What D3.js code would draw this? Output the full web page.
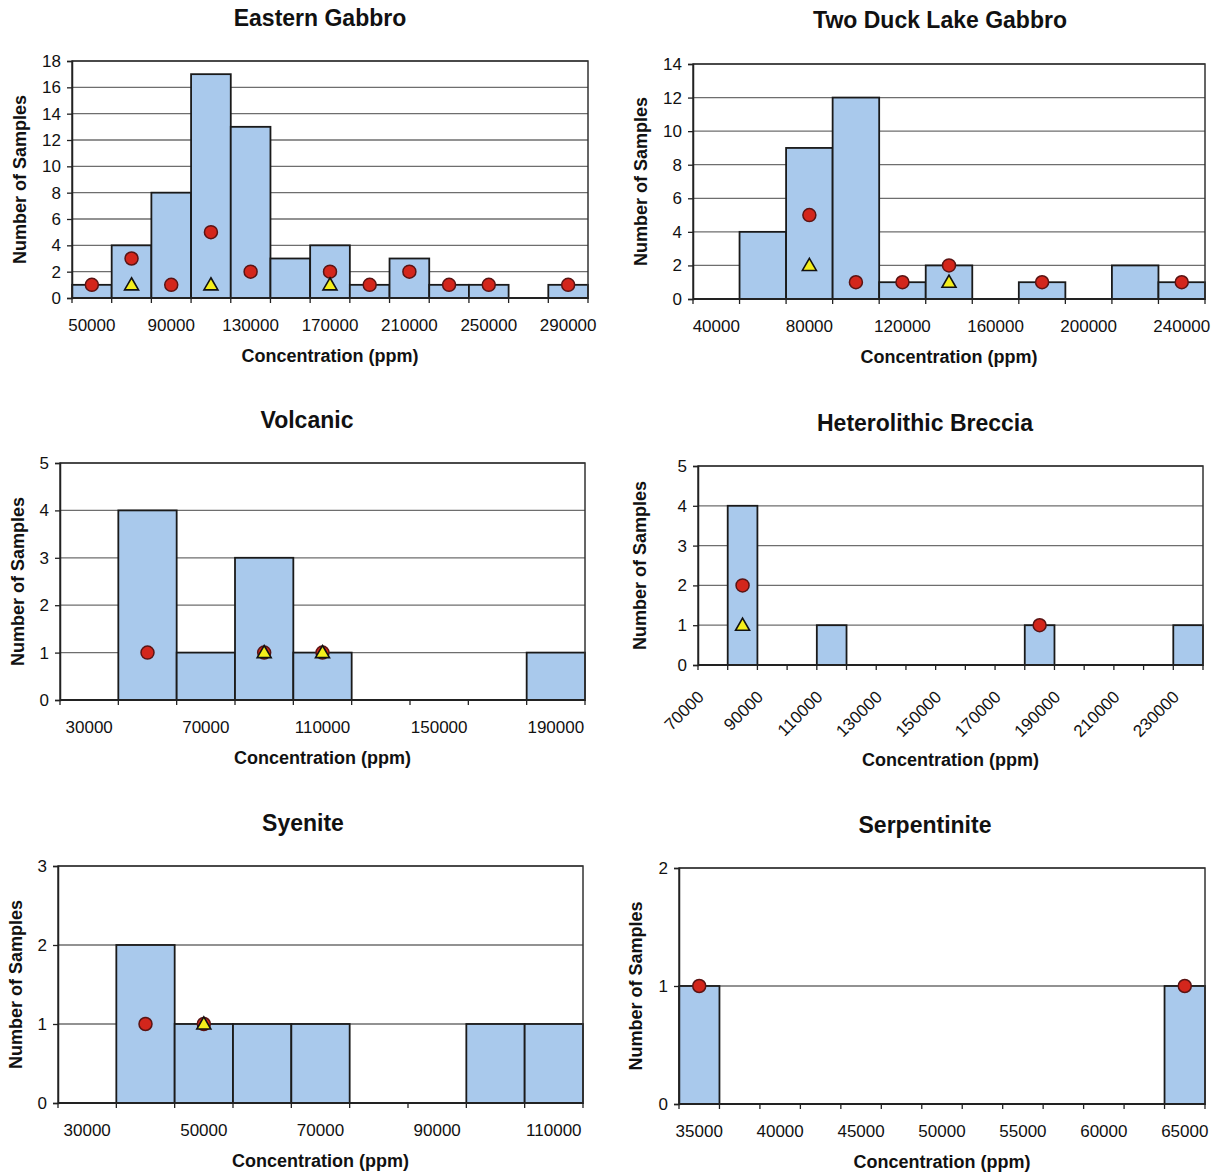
<!DOCTYPE html>
<html>
<head>
<meta charset="utf-8">
<script src="https://cdn.jsdelivr.net/npm/d3@7"></script>
<style>
  html, body { margin: 0; padding: 0; background: #fff; }
  svg { display: block; font-family: Arial, "Liberation Sans", sans-serif; }
</style>
</head>
<body>
<svg id="chart" width="1217" height="1173"></svg>
<script>
// ---------- DATA ----------
// Eastern Gabbro
const egCats      = [50000,70000,90000,110000,130000,150000,170000,190000,210000,230000,250000,270000,290000];
const egCounts    = [1,4,8,17,13,3,4,1,3,1,1,0,1];
const egCircles   = [1,3,1,5,2,null,2,1,2,1,1,null,1];
const egTriangles = [null,1,null,1,null,null,1,null,null,null,null,null,null];

// Two Duck Lake Gabbro
const tdCats      = [40000,60000,80000,100000,120000,140000,160000,180000,200000,220000,240000];
const tdCounts    = [0,4,9,12,1,2,0,1,0,2,1];
const tdCircles   = [null,null,5,1,1,2,null,1,null,null,1];
const tdTriangles = [null,null,2,null,null,1,null,null,null,null,null];

// Volcanic
const voCats      = [30000,50000,70000,90000,110000,130000,150000,170000,190000];
const voCounts    = [0,4,1,3,1,0,0,0,1];
const voCircles   = [null,1,null,1,1,null,null,null,null];
const voTriangles = [null,null,null,1,1,null,null,null,null];

// Heterolithic Breccia
const hbCats      = [70000,80000,90000,100000,110000,120000,130000,140000,150000,160000,170000,180000,190000,200000,210000,220000,230000];
const hbCounts    = [0,4,0,0,1,0,0,0,0,0,0,1,0,0,0,0,1];
const hbCircles   = [null,2,null,null,null,null,null,null,null,null,null,1,null,null,null,null,null];
const hbTriangles = [null,1,null,null,null,null,null,null,null,null,null,null,null,null,null,null,null];

// Syenite
const syCats      = [30000,40000,50000,60000,70000,80000,90000,100000,110000];
const syCounts    = [0,2,1,1,1,0,0,1,1];
const syCircles   = [null,1,1,null,null,null,null,null,null];
const syTriangles = [null,null,1,null,null,null,null,null,null];

// Serpentinite
const spCats      = [35000,37500,40000,42500,45000,47500,50000,52500,55000,57500,60000,62500,65000];
const spCounts    = [1,0,0,0,0,0,0,0,0,0,0,0,1];
const spCircles   = [1,null,null,null,null,null,null,null,null,null,null,null,1];
const spTriangles = [null,null,null,null,null,null,null,null,null,null,null,null,null];

const yTitle = "Number of Samples";
const xTitle = "Concentration (ppm)";

// ---------- LAYOUT ----------
const panels = [
  {title:"Eastern Gabbro", cats:egCats, counts:egCounts, circles:egCircles, triangles:egTriangles,
   yMax:18, yStep:2, box:{l:72,r:588,t:61,b:298}, titleX:320, titleY:26, yTitleX:20, rotate:false},
  {title:"Two Duck Lake Gabbro", cats:tdCats, counts:tdCounts, circles:tdCircles, triangles:tdTriangles,
   yMax:14, yStep:2, box:{l:693,r:1205,t:64,b:299}, titleX:940, titleY:28, yTitleX:641, rotate:false},
  {title:"Volcanic", cats:voCats, counts:voCounts, circles:voCircles, triangles:voTriangles,
   yMax:5, yStep:1, box:{l:60,r:585,t:463,b:700}, titleX:307, titleY:428, yTitleX:18, rotate:false},
  {title:"Heterolithic Breccia", cats:hbCats, counts:hbCounts, circles:hbCircles, triangles:hbTriangles,
   yMax:5, yStep:1, box:{l:698,r:1203,t:466,b:665}, titleX:925, titleY:431, yTitleX:640, rotate:true},
  {title:"Syenite", cats:syCats, counts:syCounts, circles:syCircles, triangles:syTriangles,
   yMax:3, yStep:1, box:{l:58,r:583,t:866,b:1103}, titleX:303, titleY:831, yTitleX:16, rotate:false},
  {title:"Serpentinite", cats:spCats, counts:spCounts, circles:spCircles, triangles:spTriangles,
   yMax:2, yStep:1, box:{l:679,r:1205,t:868,b:1104}, titleX:925, titleY:833, yTitleX:636, rotate:false}
];

const svg = d3.select("#chart");

panels.forEach(p => {
  const g = svg.append("g");
  const {l, r, t, b} = p.box;

  const x = d3.scaleBand().domain(p.cats).range([l, r]).paddingInner(0).paddingOuter(0);
  const y = d3.scaleLinear().domain([0, p.yMax]).range([b, t]);
  const yTicks = d3.range(0, p.yMax + 0.001, p.yStep);

  // Gridlines
  g.append("g").selectAll("line").data(yTicks).join("line")
    .attr("x1", l).attr("x2", r)
    .attr("y1", d => y(d)).attr("y2", d => y(d))
    .attr("stroke", "#6e6e6e").attr("stroke-width", 1.3);

  // Bars
  const data = p.cats.map((c, i) => ({c, v: p.counts[i], circ: p.circles[i], tri: p.triangles[i]}));
  g.append("g").selectAll("rect").data(data.filter(d => d.v > 0)).join("rect")
    .attr("x", d => x(d.c)).attr("width", x.bandwidth())
    .attr("y", d => y(d.v)).attr("height", d => y(0) - y(d.v))
    .attr("fill", "#a9c9ec").attr("stroke", "#1a1a1a").attr("stroke-width", 1.8);

  // Plot border
  g.append("rect").attr("x", l).attr("y", t).attr("width", r - l).attr("height", b - t)
    .attr("fill", "none").attr("stroke", "#333").attr("stroke-width", 1.5);

  // Y axis
  const yAxis = d3.axisLeft(y).tickValues(yTicks).tickSize(5).tickPadding(6).tickFormat(d3.format("d"));
  const ya = g.append("g").attr("transform", `translate(${l},0)`).call(yAxis);
  ya.select(".domain").attr("stroke", "#222").attr("stroke-width", 1.5);
  ya.selectAll(".tick line").attr("stroke", "#222").attr("stroke-width", 1.3);
  ya.selectAll("text").attr("font-size", 17).attr("fill", "#111");

  // X axis: ticks at category boundaries, labels every other category
  const bounds = d3.range(p.cats.length + 1).map(i => l + i * x.bandwidth());
  g.append("g").selectAll("line").data(bounds).join("line")
    .attr("x1", d => d).attr("x2", d => d).attr("y1", b).attr("y2", b + 5)
    .attr("stroke", "#222").attr("stroke-width", 1.3);
  g.append("line").attr("x1", l).attr("x2", r).attr("y1", b).attr("y2", b)
    .attr("stroke", "#222").attr("stroke-width", 1.8);

  const labelCats = p.cats.filter((c, i) => i % 2 === 0);
  if (!p.rotate) {
    g.append("g").selectAll("text").data(labelCats).join("text")
      .attr("x", d => x(d) + x.bandwidth() / 2).attr("y", b + 33)
      .attr("text-anchor", "middle").attr("font-size", 17).attr("fill", "#111")
      .text(d => d);
  } else {
    g.append("g").selectAll("text").data(labelCats).join("text")
      .attr("transform", d => `translate(${x(d) + x.bandwidth() / 2 - 8},${b + 33}) rotate(-45)`)
      .attr("text-anchor", "end").attr("font-size", 17).attr("fill", "#111")
      .text(d => d);
  }

  // Markers: circles first, triangles drawn on top
  g.append("g").selectAll("circle").data(data.filter(d => d.circ != null)).join("circle")
    .attr("cx", d => x(d.c) + x.bandwidth() / 2).attr("cy", d => y(d.circ))
    .attr("r", 6.5)
    .attr("fill", "#d3261c").attr("stroke", "#5a1414").attr("stroke-width", 1.5);
  const symTri = d3.symbol().type(d3.symbolTriangle).size(85);
  g.append("g").selectAll("path").data(data.filter(d => d.tri != null)).join("path")
    .attr("d", symTri)
    .attr("transform", d => `translate(${x(d.c) + x.bandwidth() / 2},${y(d.tri) + 1})`)
    .attr("fill", "#f4ee1c").attr("stroke", "#111").attr("stroke-width", 1.6);

  // Titles
  g.append("text").attr("x", p.titleX).attr("y", p.titleY)
    .attr("text-anchor", "middle").attr("font-size", 23).attr("font-weight", "bold").attr("fill", "#111")
    .text(p.title);
  const xTitleY = p.rotate ? b + 101 : b + 64;
  g.append("text").attr("x", (l + r) / 2).attr("y", xTitleY)
    .attr("text-anchor", "middle").attr("font-size", 18).attr("font-weight", "bold").attr("fill", "#111")
    .text(xTitle);
  g.append("text")
    .attr("transform", `translate(${p.yTitleX + 6},${(t + b) / 2}) rotate(-90)`)
    .attr("text-anchor", "middle").attr("font-size", 18).attr("font-weight", "bold").attr("fill", "#111")
    .text(yTitle);
});
</script>
</body>
</html>
